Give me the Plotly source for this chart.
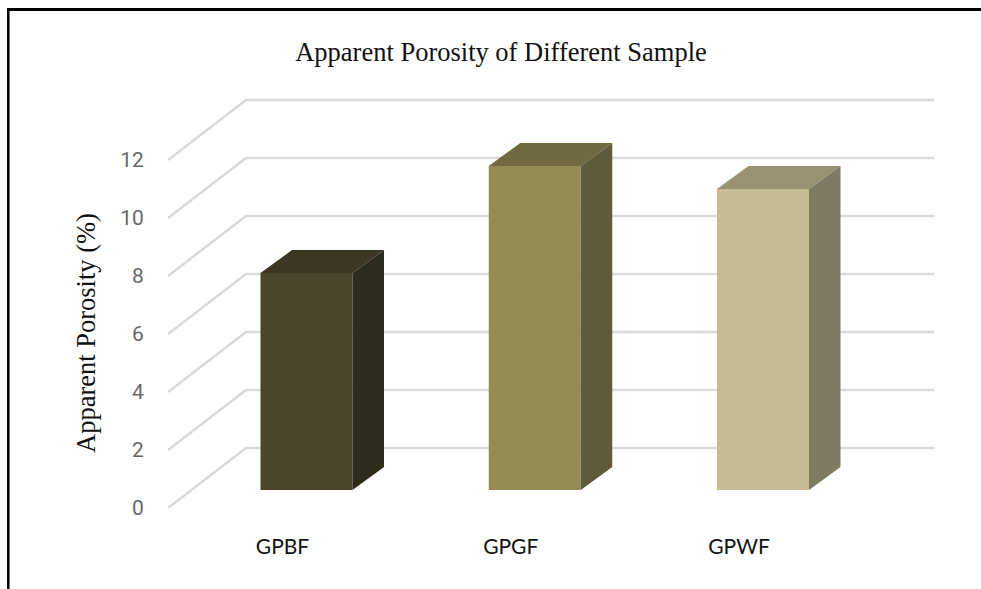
import plotly.graph_objects as go

categories = ["GPBF", "GPGF", "GPWF"]
values = [7.48, 11.17, 10.38]
grid_values = [0, 2, 4, 6, 8, 10, 12]

front_colors = ["#4b452c", "#958c54", "#c5bc96"]
top_colors = ["#3c3722", "#716a40", "#989272"]
side_colors = ["#2f2b1b", "#5f5a38", "#7f7b62"]

W, H = 981, 589
L, R, T, B = 168, 934, 90, 508
X0, STEP = 306.5, 228.25   # pixel of first category, pixels per category
V = 29.0                   # pixels per value unit
BAR = 92.0 / STEP
xr = [(L - X0) / STEP, (R - X0) / STEP]
yr = [0, (B - T) / V]

wall_dx, wall_dy = 78 / STEP, 60 / V
bar_base = 18 / V
bar_dx, bar_dy = 31.5 / STEP, 23 / V

fig = go.Figure()
for g in grid_values:
    fig.add_trace(go.Scatter(
        x=[xr[0], xr[0] + wall_dx, xr[1]],
        y=[g, g + wall_dy, g + wall_dy],
        mode="lines", line=dict(color="#dadada", width=2.5),
        hoverinfo="skip", showlegend=False))

fig.add_trace(go.Bar(
    x=list(range(len(categories))), y=values, base=bar_base, width=BAR,
    marker=dict(color=front_colors, line=dict(width=0)),
    xaxis="x2", yaxis="y2", showlegend=False))

for i, (c, v) in enumerate(zip(categories, values)):
    x1, x2 = i - BAR / 2, i + BAR / 2
    top = bar_base + v
    fig.add_trace(go.Scatter(
        x=[x1, x1 + bar_dx, x2 + bar_dx, x2, x1],
        y=[top, top + bar_dy, top + bar_dy, top, top],
        fill="toself", fillcolor=top_colors[i], mode="lines",
        line=dict(width=0, color=top_colors[i]),
        xaxis="x2", yaxis="y2", hoverinfo="skip", showlegend=False))
    fig.add_trace(go.Scatter(
        x=[x2, x2 + bar_dx, x2 + bar_dx, x2, x2],
        y=[top, top + bar_dy, bar_base + bar_dy, bar_base, top],
        fill="toself", fillcolor=side_colors[i], mode="lines",
        line=dict(width=0, color=side_colors[i]),
        xaxis="x2", yaxis="y2", hoverinfo="skip", showlegend=False))


def px(x):
    return (x - L) / (R - L)


def py(y):
    return (B - y) / (B - T)


fig.update_layout(
    width=W, height=H, autosize=False,
    margin=dict(l=L, r=W - R, t=T, b=H - B, pad=0),
    paper_bgcolor="white", plot_bgcolor="white",
    showlegend=False,
    title=dict(text="Apparent Porosity of Different Sample",
               font=dict(family="Liberation Serif", size=26.5, color="#111111"),
               x=501 / W, xanchor="center", y=1 - 52 / H, yanchor="middle"),
    xaxis=dict(range=xr, showgrid=False, zeroline=False, showline=False,
               tickmode="array",
               tickvals=[i - 24 / STEP for i in range(len(categories))],
               ticktext=categories, ticks="outside", ticklen=20,
               tickcolor="rgba(0,0,0,0)",
               tickfont=dict(family="Lato", size=21, color="#111111")),
    yaxis=dict(range=yr, showgrid=False, zeroline=False, showline=False,
               tickmode="array", tickvals=grid_values,
               ticks="outside", ticklen=19, tickcolor="rgba(0,0,0,0)",
               tickfont=dict(family="Roboto", size=21, color="#686868")),
    xaxis2=dict(range=xr, overlaying="x", visible=False),
    yaxis2=dict(range=yr, overlaying="y", visible=False),
    annotations=[dict(text="Apparent Porosity (%)", xref="paper", yref="paper",
                      x=px(86), y=py(333), textangle=-90, showarrow=False,
                      xanchor="center", yanchor="middle",
                      font=dict(family="Liberation Serif", size=26.5, color="#111111"))],
    shapes=[
        dict(type="line", xref="paper", yref="paper", x0=px(7), x1=px(W), y0=py(9.5), y1=py(9.5),
             line=dict(color="black", width=3)),
        dict(type="line", xref="paper", yref="paper", x0=px(8.3), x1=px(8.3), y0=py(8), y1=py(H),
             line=dict(color="black", width=2.5)),
    ],
)

fig.write_html("out.html", config={"displayModeBar": False},
               post_script="document.body.style.margin='0';document.body.style.overflow='hidden';")
